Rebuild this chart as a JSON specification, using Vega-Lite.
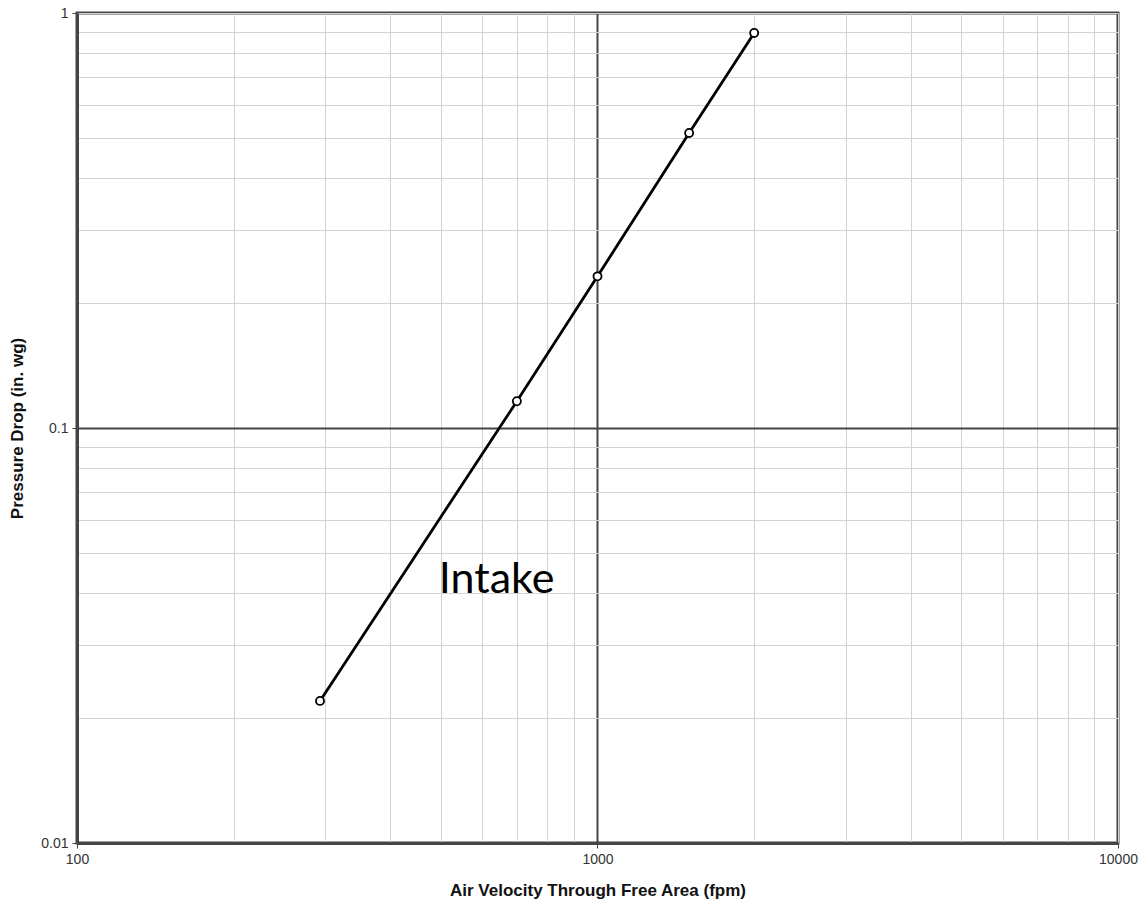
{
  "$schema": "https://vega.github.io/schema/vega-lite/v6.json",
  "autosize": "none",
  "width": 1041,
  "height": 830,
  "padding": {"left": 77, "top": 13, "right": 25, "bottom": 65},
  "background": "white",
  "config": {
    "view": {"stroke": "#444444", "strokeWidth": 3},
    "axis": {
      "labelFont": "Liberation Sans",
      "labelFontSize": 14,
      "labelColor": "#333333",
      "titleFont": "Liberation Sans",
      "titleFontSize": 17,
      "titleFontWeight": "bold",
      "titleColor": "#111111",
      "domainColor": "#444444",
      "domainWidth": 3,
      "tickSize": 5,
      "labelPadding": 4
    }
  },
  "datasets": {
    "intake": [
      {"velocity": 293, "drop": 0.022},
      {"velocity": 700, "drop": 0.116},
      {"velocity": 1000, "drop": 0.232},
      {"velocity": 1500, "drop": 0.514},
      {"velocity": 2000, "drop": 0.895}
    ],
    "label": [
      {"velocity": 640, "drop": 0.043, "text": "Intake"}
    ]
  },
  "layer": [
    {
      "data": {"name": "intake"},
      "mark": {"type": "line", "color": "#000000", "strokeWidth": 2.8},
      "encoding": {
        "x": {
          "field": "velocity",
          "type": "quantitative",
          "scale": {"type": "log", "domain": [100, 10000], "nice": false},
          "axis": {
            "title": "Air Velocity  Through Free Area (fpm)",
            "titlePadding": 16,
            "values": [100, 200, 300, 400, 500, 600, 700, 800, 900, 1000, 2000, 3000, 4000, 5000, 6000, 7000, 8000, 9000, 10000],
            "labelExpr": "(datum.value == 100 || datum.value == 1000 || datum.value == 10000) ? '' + datum.value : ''",
            "grid": true,
            "gridColor": {"condition": {"test": "datum.value == 1000", "value": "#444444"}, "value": "#d3d3d3"},
            "gridWidth": {"condition": {"test": "datum.value == 1000", "value": 2}, "value": 1},
            "tickColor": {"condition": {"test": "datum.value == 100 || datum.value == 1000 || datum.value == 10000", "value": "#444444"}, "value": "transparent"},
            "labelFlush": false,
            "labelOverlap": false
          }
        },
        "y": {
          "field": "drop",
          "type": "quantitative",
          "scale": {"type": "log", "domain": [0.01, 1], "nice": false},
          "axis": {
            "title": "Pressure Drop (in. wg)",
            "titlePadding": 14,
            "values": [0.01, 0.02, 0.03, 0.04, 0.05, 0.06, 0.07, 0.08, 0.09, 0.1, 0.2, 0.3, 0.4, 0.5, 0.6, 0.7, 0.8, 0.9, 1],
            "labelExpr": "(datum.value == 0.01 || datum.value == 0.1 || datum.value == 1) ? '' + datum.value : ''",
            "grid": true,
            "gridColor": {"condition": {"test": "datum.value == 0.1", "value": "#444444"}, "value": "#d3d3d3"},
            "gridWidth": {"condition": {"test": "datum.value == 0.1", "value": 2}, "value": 1},
            "tickColor": {"condition": {"test": "datum.value == 0.01 || datum.value == 0.1 || datum.value == 1", "value": "#444444"}, "value": "transparent"},
            "labelFlush": false,
            "labelOverlap": false
          }
        }
      }
    },
    {
      "data": {"name": "intake"},
      "mark": {"type": "point", "shape": "circle", "filled": true, "fill": "#ffffff", "stroke": "#000000", "strokeWidth": 1.8, "size": 65, "opacity": 1},
      "encoding": {
        "x": {"field": "velocity", "type": "quantitative"},
        "y": {"field": "drop", "type": "quantitative"}
      }
    },
    {
      "data": {"name": "label"},
      "mark": {"type": "text", "font": "Lato", "fontSize": 43, "color": "#000000", "align": "center", "baseline": "middle"},
      "encoding": {
        "x": {"field": "velocity", "type": "quantitative"},
        "y": {"field": "drop", "type": "quantitative"},
        "text": {"field": "text"}
      }
    }
  ]
}
